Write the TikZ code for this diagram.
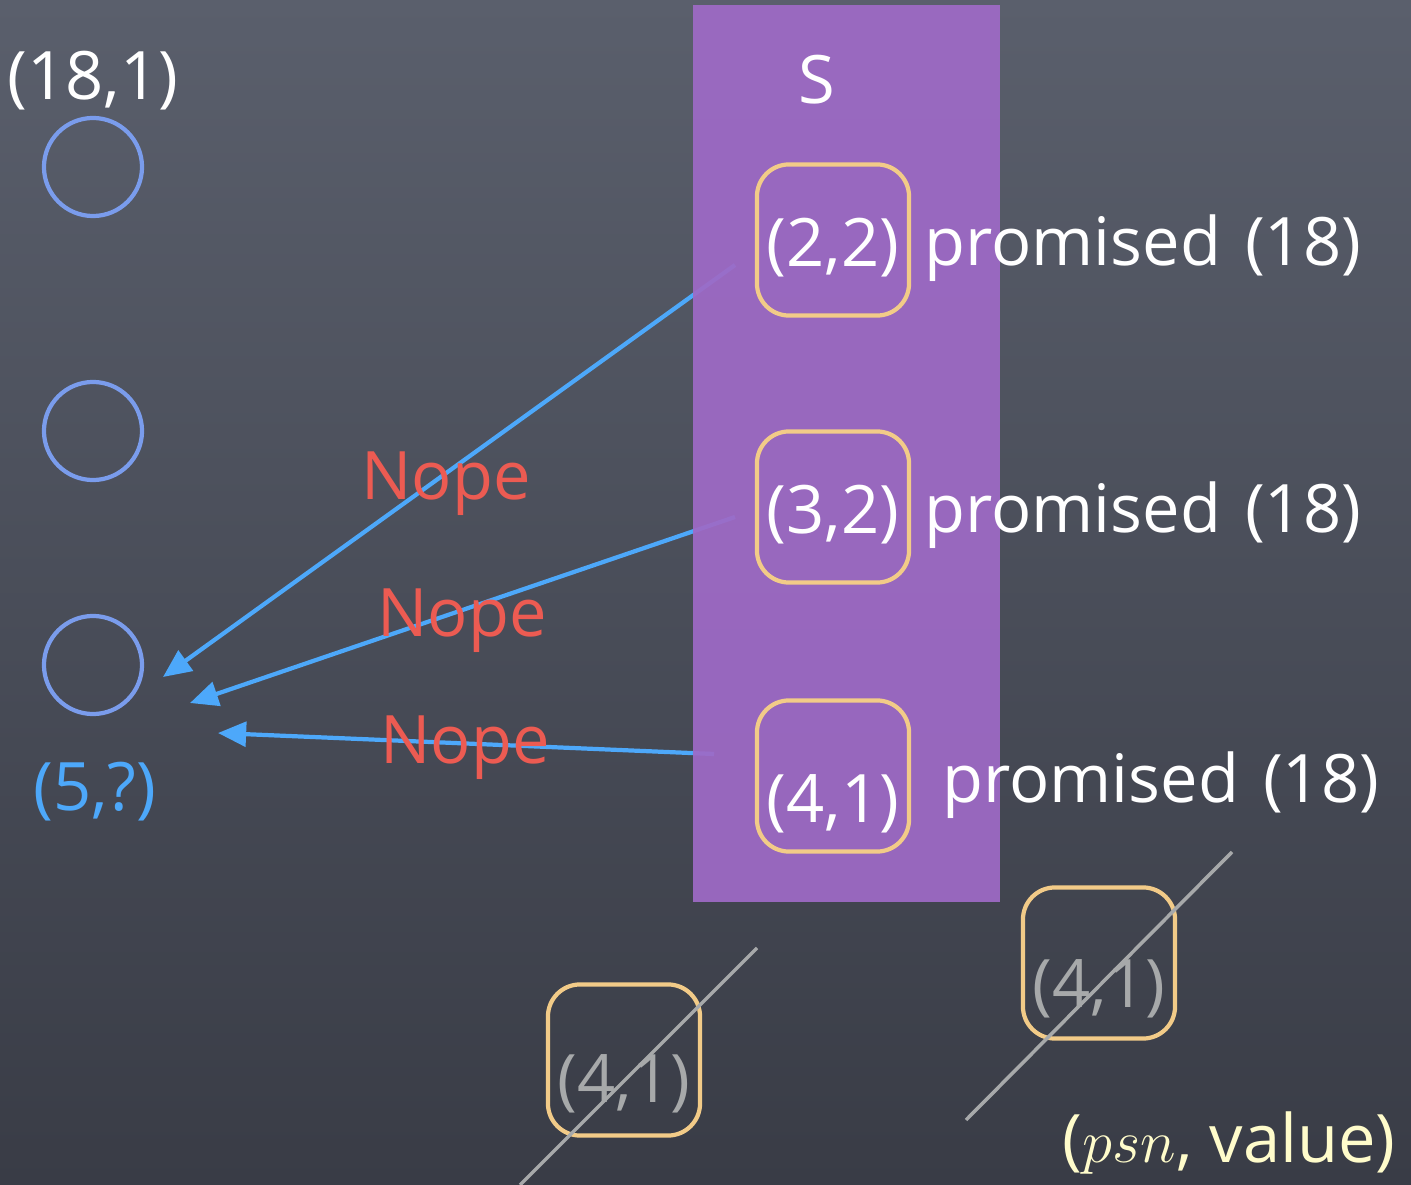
\documentclass[tikz,border=0pt]{standalone}
\usepackage{fontspec}
\setmainfont{Open Sans}
\usetikzlibrary{arrows.meta}
\definecolor{BoardTop}{HTML}{5A5F6C}
\definecolor{BoardBot}{HTML}{393C46}
\definecolor{Grape}{HTML}{9E6AC6}
\definecolor{Sand}{HTML}{F2CB88}
\definecolor{Ring}{HTML}{7A9CEC}
\definecolor{Sky}{HTML}{4DA8FA}
\definecolor{Tomato}{HTML}{EC5B52}
\definecolor{Ash}{HTML}{A7A9AA}
\definecolor{Cream}{HTML}{FFFCCB}
\begin{document}
\begin{tikzpicture}[x=0.01cm,y=-0.01cm,
  every node/.style={text=white,font=\fontsize{19pt}{22pt}\selectfont},
  ring/.style={circle,draw=Ring,line width=1.2pt,minimum size=0.98cm},
  slot/.style={draw=Sand,line width=1.2pt,rounded corners=0.32cm,minimum width=1.52cm,minimum height=1.51cm},
  nope/.style={text=Tomato},
  send/.style={draw=Sky,line width=1.2pt,-{Triangle[length=8pt,width=7pt]}},
  strike/.style={draw=Ash,line width=1pt}]
\useasboundingbox (0,0) rectangle (1411,1185);
\shade[top color=BoardTop,bottom color=BoardBot] (0,0) rectangle (1411,1185);
% acceptors on the left
\node[ring] (c1) at (93,167){};\node[ring] (c2) at (93,431){};\node[ring] (c3) at (93,665){};
\node (top) at (93,81){(18,1)};
\node[text=Sky] (ask) at (95,792){(5,?)};
% replies from S
\coordinate (s1) at (735,265);\coordinate (s2) at (735,517);\coordinate (s3) at (714,754);
\coordinate (t1) at (163,677);\coordinate (t2) at (190,703);\coordinate (t3) at (218,733);
\draw[send] (s1)--(t1);\draw[send] (s2)--(t2);\draw[send] (s3)--(t3);
\fill[Grape,opacity=0.93] (693,5) rectangle (1000,902);
\node (S) at (817,80){S};
\node[slot] (b22) at (833,240){};\node[slot] (b32) at (833,507){};\node[slot] (b41) at (833,776){};
\node (l22) at (833,248){(2,2)};\node (l32) at (833,515){(3,2)};\node (l41) at (833,804){(4,1)};
\node[anchor=west] (p22) at (912,248){promised\hspace{0.1em} (18)};
\node[anchor=west] (p32) at (912,515){promised\hspace{0.1em} (18)};
\node[anchor=west] (p41) at (930,785){promised\hspace{0.1em} (18)};
\node[nope] (n1) at (446,484){Nope};\node[nope] (n2) at (462,621){Nope};\node[nope] (n3) at (465,748){Nope};
% crossed out values
\node[slot] (d1) at (624,1060){};\node[text=Ash] (e1) at (624,1084){(4,1)};
\node[slot] (d2) at (1099,963){};\node[text=Ash] (e2) at (1099,989){(4,1)};
\coordinate (x1a) at (757,948);\coordinate (x1b) at (520,1185);
\coordinate (x2a) at (1232,852);\coordinate (x2b) at (966,1120);
\draw[strike] (x1a)--(x1b);\draw[strike] (x2a)--(x2b);
\node[text=Cream,anchor=east] (key) at (1408,1143){($psn$, value)};
\end{tikzpicture}
\end{document}
